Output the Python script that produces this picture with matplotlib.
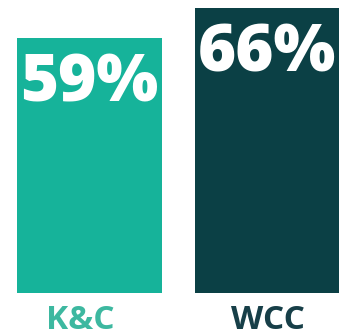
import matplotlib
matplotlib.use("Agg")
import matplotlib.pyplot as plt

categories = ["K&C", "WCC"]
values = [59, 66]
bar_colors = ["#16b39a", "#0b4045"]
label_colors = ["#3db8a0", "#173f48"]

fig = plt.figure(figsize=(3.42, 3.36), dpi=100)
ax = fig.add_axes([0, 43 / 336, 1, 1 - 43 / 336])

x = [0, 1]
ax.bar(x, values, width=0.815, color=bar_colors)
ax.set_xlim(-0.504, 1.4225)
ax.set_ylim(0, 67.8)
ax.axis("off")

# white percent labels inside the bar tops
for xi, v in zip(x, values):
    ax.text(xi, v - 14.7, f"{v}%", ha="center", va="baseline",
            color="white", fontsize=47, fontweight=800, family="Open Sans")

# category labels below bars
label_x = [80 / 342, 268 / 342]
for lx, cat, c in zip(label_x, categories, label_colors):
    fig.text(lx, 7 / 336, cat, ha="center", va="baseline",
             color=c, fontsize=24, fontweight="bold", family="Open Sans")

fig.savefig("out.png", dpi=100)
